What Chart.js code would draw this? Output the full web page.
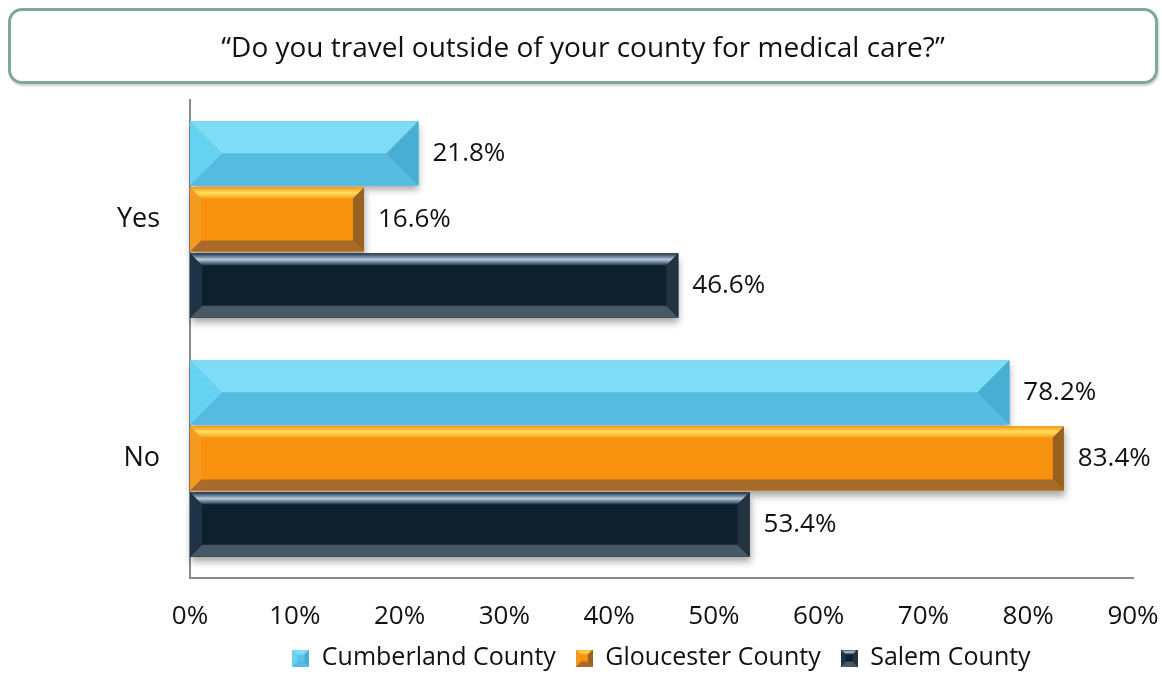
<!DOCTYPE html>
<html>
<head>
<meta charset="utf-8">
<script src="https://cdn.jsdelivr.net/npm/chart.js@4"></script>
<style>
  html, body { margin: 0; padding: 0; background: #fff; }
  #wrap { position: relative; width: 1162px; height: 677px; overflow: hidden; }
  #chart { position: absolute; left: 0; top: 0; }
  #title {
    position: absolute; left: 8px; top: 8px; width: 1144px; height: 70px;
    border: 3px solid #7ea898; border-radius: 14px;
    box-shadow: 1px 2px 2px rgba(0, 0, 0, 0.18);
    font-family: "Open Sans", sans-serif; font-size: 28px; color: #111;
    display: flex; align-items: center; justify-content: center;
  }
</style>
</head>
<body>
<div id="wrap">
  <canvas id="chart" width="1162" height="688"></canvas>
  <div id="title">“Do you travel outside of your county for medical care?”</div>
</div>
<script>
const categories = ['Yes', 'No'];
const seriesNames = ['Cumberland County', 'Gloucester County', 'Salem County'];
const cumberland = [21.8, 78.2];
const gloucester = [16.6, 83.4];
const salem = [46.6, 53.4];
const xTicks = [0, 10, 20, 30, 40, 50, 60, 70, 80, 90];

// bevel look per series (top may be a list of gradient stops)
const bevels = [
    { face: '#5bc3e4', top: '#7fdcf6', bottom: '#55bce0', left: '#66d3f2', right: '#48aed2', size: 40 },
    { face: '#f8910e', top: ['#f39a1c', '#ffe05a', '#f7a21e'], bottom: '#a86a2b', left: '#f49a1e', right: '#98611f', size: 11 },
    { face: '#0e1f2e', top: ['#22384c', '#b4cadc', '#1c3042'], bottom: '#485865', left: '#1f3346', right: '#233342', size: 12 }
];

function drawBevel(ctx, left, top, right, bottom, c, b) {
    b = Math.min(b, (bottom - top) / 2, (right - left) / 2);
    ctx.fillStyle = c.face;
    ctx.fillRect(left, top, right - left, bottom - top);
    const poly = (pts, col) => {
        ctx.beginPath();
        ctx.moveTo(pts[0][0], pts[0][1]);
        for (let i = 1; i < pts.length; i++) ctx.lineTo(pts[i][0], pts[i][1]);
        ctx.closePath();
        ctx.fillStyle = col;
        ctx.fill();
    };
    let topFill = c.top;
    if (Array.isArray(c.top)) {
        topFill = ctx.createLinearGradient(0, top, 0, top + b);
        c.top.forEach((s, k) => topFill.addColorStop(k / (c.top.length - 1), s));
    }
    poly([[left, top], [right, top], [right - b, top + b], [left + b, top + b]], topFill);
    poly([[left, bottom], [right, bottom], [right - b, bottom - b], [left + b, bottom - b]], c.bottom);
    poly([[left, top], [left + b, top + b], [left + b, bottom - b], [left, bottom]], c.left);
    poly([[right, top], [right - b, top + b], [right - b, bottom - b], [right, bottom]], c.right);
}

function legendIcon(c) {
    const cv = document.createElement('canvas');
    cv.width = 17; cv.height = 17;
    drawBevel(cv.getContext('2d'), 0, 0, 17, 17, c, 5);
    return cv;
}

const bevelBars = {
    id: 'bevelBars',
    afterDatasetsDraw(chart) {
        const ctx = chart.ctx;
        chart.data.datasets.forEach((ds, i) => {
            const meta = chart.getDatasetMeta(i);
            meta.data.forEach((el, j) => {
                const h = el.height;
                const top = el.y - h / 2, bottom = el.y + h / 2;
                const left = Math.min(el.base, el.x), right = Math.max(el.base, el.x);
                ctx.save();
                ctx.shadowColor = 'rgba(0,0,0,0.35)';
                ctx.shadowBlur = 7;
                ctx.shadowOffsetY = 5;
                ctx.shadowOffsetX = 1;
                ctx.fillStyle = bevels[i].face;
                ctx.fillRect(left, top, right - left, bottom - top);
                ctx.restore();
                drawBevel(ctx, left, top, right, bottom, bevels[i], bevels[i].size);
                ctx.save();
                ctx.fillStyle = '#111';
                ctx.font = '26px "Open Sans", sans-serif';
                ctx.textBaseline = 'middle';
                ctx.textAlign = 'left';
                ctx.fillText(ds.data[j].toFixed(1) + '%', right + 14, el.y);
                ctx.restore();
            });
        });
    }
};

// pull the legend up a little so it sits closer to the tick labels
const legendNudge = {
    id: 'legendNudge',
    afterLayout(chart) {
        chart.legend.top -= 7.5;
        chart.legend.bottom -= 7.5;
    }
};

const chart = new Chart(document.getElementById('chart').getContext('2d'), {
    type: 'bar',
    data: {
        labels: categories,
        datasets: [
            { label: seriesNames[0], data: cumberland, backgroundColor: 'rgba(0,0,0,0)', pointStyle: legendIcon(bevels[0]) },
            { label: seriesNames[1], data: gloucester, backgroundColor: 'rgba(0,0,0,0)', pointStyle: legendIcon(bevels[1]) },
            { label: seriesNames[2], data: salem, backgroundColor: 'rgba(0,0,0,0)', pointStyle: legendIcon(bevels[2]) }
        ]
    },
    options: {
        indexAxis: 'y',
        responsive: false,
        animation: false,
        categoryPercentage: 0.83,
        barPercentage: 0.97,
        layout: { padding: { top: 100, right: 29, bottom: 0, left: 0 } },
        scales: {
            x: {
                min: 0, max: 90,
                afterBuildTicks: s => { s.ticks = xTicks.map(v => ({ value: v })); },
                afterFit: s => { s.height = 55; s.paddingRight = 0; s.paddingLeft = 0; },
                grid: { display: false, drawTicks: false },
                border: { display: true, color: '#8a8a8a', width: 2 },
                ticks: {
                    padding: 23, color: '#111',
                    font: { family: '"Open Sans", sans-serif', size: 26 },
                    callback: v => v + '%'
                }
            },
            y: {
                grid: { display: false, drawTicks: false },
                border: { display: true, color: '#8a8a8a', width: 2 },
                afterFit: s => { s.width = 190; },
                ticks: {
                    padding: 30, color: '#111',
                    font: { family: '"Open Sans", sans-serif', size: 27 }
                }
            }
        },
        plugins: {
            legend: {
                position: 'bottom',
                fullSize: false,
                labels: {
                    usePointStyle: true,
                    boxWidth: 17, boxHeight: 17,
                    padding: 20, color: '#111',
                    font: { family: '"Open Sans", sans-serif', size: 25 }
                }
            },
            tooltip: { enabled: false }
        }
    },
    plugins: [bevelBars, legendNudge]
});
</script>
</body>
</html>
